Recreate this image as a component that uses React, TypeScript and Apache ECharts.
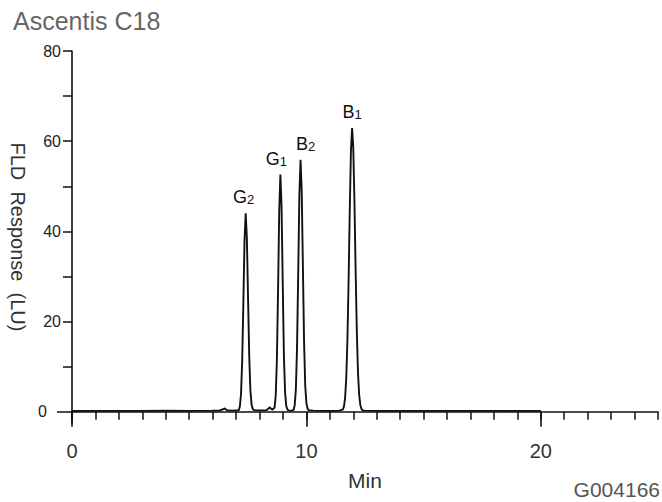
import React, { useEffect, useRef } from "react";
import * as echarts from "echarts";

// Retention time (min) and FLD response (LU)
const timeMin = [
  0, 1, 2, 3, 4, 5, 6, 6.3, 6.45, 6.52, 6.6, 6.8, 7.0,
  7.11, 7.16, 7.21, 7.26, 7.31, 7.36, 7.41, 7.46, 7.51, 7.56, 7.61, 7.66, 7.71, 7.76,
  7.9, 8.1, 8.3, 8.38, 8.44, 8.5, 8.56,
  8.64, 8.69, 8.74, 8.79, 8.84, 8.89, 8.94, 8.99, 9.04, 9.09, 9.14, 9.19, 9.24,
  9.32, 9.4,
  9.45, 9.5, 9.55, 9.6, 9.65, 9.7, 9.75, 9.8, 9.85, 9.9, 9.95, 10.0, 10.05, 10.1,
  10.3, 10.7, 11.1, 11.4,
  11.55, 11.6, 11.65, 11.7, 11.75, 11.8, 11.85, 11.9, 11.95, 12.0, 12.05, 12.1, 12.15, 12.2, 12.25, 12.3, 12.35, 12.4,
  12.5, 13, 14, 15, 16, 17, 18, 19, 20,
];
const responseLU = [
  0.2, 0.2, 0.2, 0.2, 0.25, 0.2, 0.25, 0.3, 0.55, 0.75, 0.35, 0.25, 0.3,
  0.3, 1.1, 3.9, 11.2, 24.0, 37.9, 44.0, 38.5, 25.5, 12.5, 4.8, 1.6, 0.6, 0.35,
  0.3, 0.3, 0.35, 0.7, 1.0, 0.6, 0.5,
  0.9, 3.5, 11.3, 26.5, 44.4, 52.6, 45.5, 28.5, 12.5, 4.3, 1.3, 0.5, 0.3,
  0.25, 0.3,
  0.4, 1.4, 4.9, 14.1, 30.4, 48.1, 55.9, 49.0, 32.5, 15.5, 5.8, 1.9, 0.7, 0.35,
  0.25, 0.2, 0.2, 0.25,
  0.45, 1.1, 3.0, 7.4, 15.9, 29.0, 44.7, 57.9, 62.9, 58.5, 46.5, 31.5, 18.0, 8.8, 3.8, 1.5, 0.6, 0.3,
  0.25, 0.2, 0.2, 0.2, 0.2, 0.2, 0.2, 0.2, 0.2,
];

// Peak annotations
const peakLetters = ["G", "G", "B", "B"];
const peakSubs = ["2", "1", "2", "1"];
const peakTimes = [7.41, 8.89, 9.75, 11.95];
const peakHeights = [44.0, 52.6, 55.9, 62.9];
const peakLabelShift = [-2, -4, 5, 0];

// Axis ticks / labels
const yTickValues = [10, 20, 30, 40, 50, 60, 70, 80];
const yLabelValues = [20, 40, 60, 80];
const xMajorValues = [0, 10, 20];

const FONT = "Liberation Sans, Arial, sans-serif";

export default function App() {
  const ref = useRef<HTMLDivElement>(null);

  useEffect(() => {
    if (!ref.current) return;
    const chart = echarts.init(ref.current, null, { renderer: "svg" });

    const lineData = timeMin.map((t, i) => [t, responseLU[i]]);
    const markData = peakTimes.map((t, i) => ({
      coord: [t, peakHeights[i]],
      value: peakHeights[i],
      label: {
        formatter: `{m|${peakLetters[i]}}{s|${peakSubs[i]}}`,
        offset: [peakLabelShift[i], 0],
      },
    }));

    chart.setOption({
      animation: false,
      backgroundColor: "#ffffff",
      title: [
        {
          text: "Ascentis C18",
          left: 13,
          top: 8,
          padding: 0,
          textStyle: { fontFamily: FONT, fontSize: 25, fontWeight: "normal", color: "#666666" },
        },
        {
          text: "G004166",
          right: 2,
          top: 479,
          padding: 0,
          textStyle: { fontFamily: FONT, fontSize: 21, fontWeight: "normal", color: "#555555" },
        },
      ],
      grid: { left: 72, right: 4, top: 51, bottom: 79 },
      xAxis: [
        {
          type: "value",
          min: 0,
          max: 25,
          interval: 1,
          name: "Min",
          nameLocation: "middle",
          nameGap: 47,
          nameTextStyle: { fontFamily: FONT, fontSize: 21, color: "#333" },
          axisLine: { show: true, lineStyle: { color: "#111", width: 1.6 } },
          axisTick: { show: true, length: 8, lineStyle: { color: "#111", width: 1.5 } },
          axisLabel: {
            customValues: xMajorValues,
            margin: 18,
            fontFamily: FONT,
            fontSize: 20,
            color: "#333",
          },
          splitLine: { show: false },
        },
        {
          type: "value",
          min: 0,
          max: 25,
          position: "bottom",
          axisLine: { show: false },
          axisTick: {
            show: true,
            customValues: xMajorValues,
            length: 15,
            lineStyle: { color: "#111", width: 1.6 },
          },
          axisLabel: { show: false },
          splitLine: { show: false },
        },
      ],
      yAxis: [
        {
          type: "value",
          min: -2.5,
          max: 80,
          name: "FLD  Response  (LU)",
          nameLocation: "middle",
          nameRotate: -90,
          nameGap: 44,
          nameTextStyle: { fontFamily: FONT, fontSize: 20, color: "#333", padding: [0, 0, 8, 0] },
          axisLine: { show: true, lineStyle: { color: "#111", width: 1.6 } },
          axisTick: {
            show: true,
            customValues: yTickValues,
            length: 9,
            lineStyle: { color: "#111", width: 1.5 },
          },
          axisLabel: {
            customValues: yLabelValues,
            margin: 11,
            fontFamily: FONT,
            fontSize: 16,
            color: "#222",
          },
          splitLine: { show: false },
        },
        {
          type: "value",
          min: -2.5,
          max: 80,
          position: "left",
          axisLine: { show: false },
          axisTick: {
            show: true,
            customValues: [0],
            length: 15,
            lineStyle: { color: "#111", width: 1.5 },
          },
          axisLabel: {
            customValues: [0],
            margin: 25,
            fontFamily: FONT,
            fontSize: 16,
            color: "#222",
          },
          splitLine: { show: false },
        },
      ],
      series: [
        {
          type: "line",
          xAxisIndex: 0,
          yAxisIndex: 0,
          data: lineData,
          showSymbol: false,
          symbol: "none",
          smooth: false,
          lineStyle: { color: "#111", width: 1.9 },
          markPoint: {
            symbol: "circle",
            symbolSize: 0,
            itemStyle: { color: "transparent" },
            label: {
              show: true,
              position: "top",
              distance: 7,
              rich: {
                m: { fontFamily: FONT, fontSize: 18, lineHeight: 19, color: "#111", verticalAlign: "bottom" },
                s: { fontFamily: FONT, fontSize: 13, lineHeight: 14, color: "#111", verticalAlign: "bottom" },
              },
            },
            data: markData,
          },
        },
      ],
    });

    return () => chart.dispose();
  }, []);

  return (
    <div
      ref={ref}
      style={{ position: "fixed", left: 0, top: 0, width: 662, height: 502 }}
    />
  );
}
